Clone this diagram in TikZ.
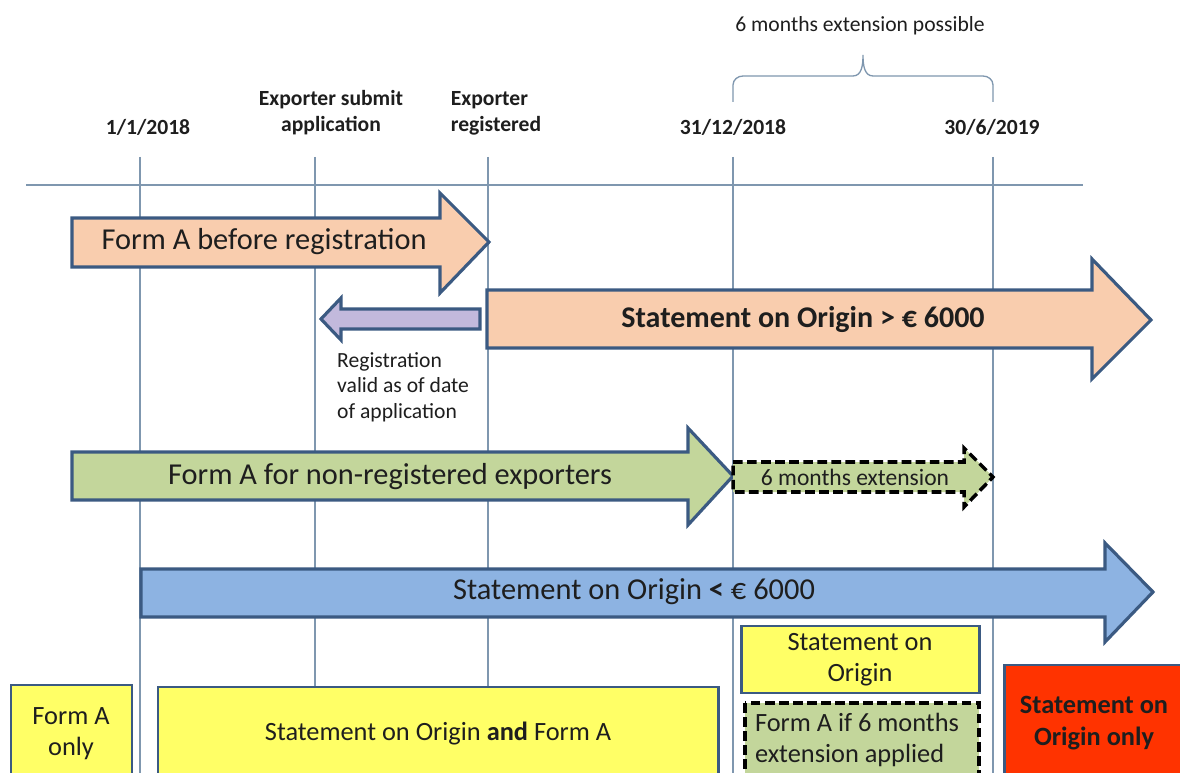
\documentclass[tikz,border=0pt]{standalone}
\usepackage{fontspec}
\setmainfont{Carlito}
\usepackage{tikz}
\usetikzlibrary{calc}

\definecolor{gridblue}{HTML}{7F97AF}
\definecolor{edgeblue}{HTML}{3B5A82}
\definecolor{peach}{HTML}{F9CDAE}
\definecolor{lavender}{HTML}{C2B9DC}
\definecolor{olivegreen}{HTML}{C3D69B}
\definecolor{skyblue}{HTML}{8DB3E2}
\definecolor{boxyellow}{HTML}{FFFF66}
\definecolor{alertred}{HTML}{FF3300}
\definecolor{textgray}{HTML}{1E1E1E}

\tikzset{
  gridline/.style={draw=gridblue, line width=0.75pt},
  blockarrow/.style={draw=edgeblue, line width=1.8pt, line join=miter},
  dasharrow/.style={draw=black, line width=2pt, dash pattern=on 5.5pt off 2.5pt, line join=miter},
  yellowbox/.style={draw=edgeblue, fill=boxyellow, line width=1.7pt},
  datelabel/.style={text=textgray, font=\fontsize{12.3}{14.7}\selectfont\bfseries, align=center},
  notelabel/.style={text=textgray, font=\fontsize{12.3}{14.7}\selectfont, align=left},
  arrowtext/.style={text=textgray, font=\fontsize{17.3}{20}\selectfont},
  boxtext/.style={text=textgray, font=\fontsize{15}{17.5}\selectfont, align=center}
}

\begin{document}
\begin{tikzpicture}[x=0.02cm,y=-0.02cm]
\clip (0,0) rectangle (1180,773);
\fill[white] (0,0) rectangle (1180,773);

% time axis
\draw[gridline] (26,185) -- (1083,185);
\foreach \xx in {140,315,488,733,993}
  \draw[gridline] (\xx,157) -- (\xx,780);

\node[datelabel] (start) at (148,127) {1/1/2018};
\node[datelabel] (submit) at (331,113) {Exporter submit\\application};
\node[datelabel, align=left] (registered) at (496,113) {Exporter\\registered};
\node[datelabel] (yearend) at (733,127) {31/12/2018};
\node[datelabel] (extend) at (992,127) {30/6/2019};

% brace over the extension
\draw[gridline] (733,102) -- (733,85) to[out=90,in=180] (743,76) -- (853,76)
  to[out=0,in=-90] (863,55) to[out=-90,in=180] (873,76) -- (983,76)
  to[out=0,in=90] (993,85) -- (993,102);
\node[notelabel] (possible) at (860,26) {6 months extension possible};

% Form A before registration
\draw[blockarrow, fill=peach] (72,218) -- (440,218) -- (440,193) -- (489,242)
  -- (440,293) -- (440,267) -- (72,267) -- cycle;
\node[arrowtext] (formbefore) at (264,242) {Form A before registration};

% Statement on Origin > 6000
\draw[blockarrow, fill=peach] (487,290) -- (1092,290) -- (1092,259) -- (1151,320)
  -- (1092,379) -- (1092,348) -- (487,348) -- cycle;
\node[arrowtext, font=\fontsize{17.1}{20}\selectfont\bfseries] (above) at (803,320) {Statement on Origin > € 6000};

% back to date of application
\draw[blockarrow, fill=lavender] (480,309) -- (341,309) -- (341,298) -- (321,319)
  -- (341,340) -- (341,329) -- (480,329) -- cycle;
\node[notelabel, anchor=north west] (valid) at (331,346) {Registration\\valid as of date\\of application};

% Form A for non-registered exporters
\draw[blockarrow, fill=olivegreen] (72,452) -- (688,452) -- (688,428) -- (733,476)
  -- (688,525) -- (688,500) -- (72,500) -- cycle;
\node[arrowtext] (formnonreg) at (390,477) {Form A for non-registered exporters};

\draw[dasharrow, fill=olivegreen] (733,462) -- (964,462) -- (964,448) -- (993,477)
  -- (964,507) -- (964,492) -- (733,492) -- cycle;
\node[text=textgray, font=\fontsize{13.4}{15}\selectfont] (sixmonths) at (855,477) {6 months extension};

% Statement on Origin < 6000
\draw[blockarrow, fill=skyblue] (141,569) -- (1105,569) -- (1105,543) -- (1153,592)
  -- (1105,642) -- (1105,617) -- (141,617) -- cycle;
\node[arrowtext] (below) at (634,592) {Statement on Origin \textbf{<} € 6000};

% boxes
\draw[yellowbox] (11,685) rectangle (132,800);
\node[boxtext] (formonly) at (71,734) {Form A\\only};
\draw[yellowbox] (158,687) rectangle (718,800);
\node[boxtext] (both) at (438,734) {Statement on Origin \textbf{and} Form A};
\draw[yellowbox] (741,626) rectangle (979,693);
\node[boxtext] (soonly) at (860,660) {Statement on\\Origin};
\draw[dasharrow, fill=olivegreen] (745,703) rectangle (979,800);
\node[boxtext, align=left] (ifext) at (857,740) {Form A if 6 months\\extension applied};
\draw[draw=edgeblue, fill=alertred, line width=1.7pt] (1004,665) rectangle (1200,800);
\node[boxtext, font=\fontsize{15}{18.5}\selectfont\bfseries] (originonly) at (1094,723) {Statement on\\Origin only};

\end{tikzpicture}
\end{document}
